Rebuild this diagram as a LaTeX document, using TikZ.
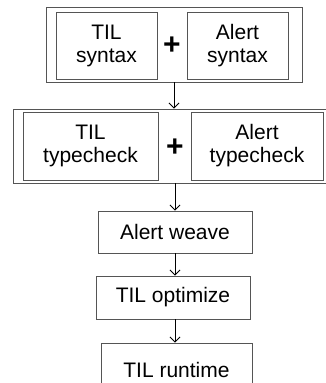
\documentclass[tikz,border=0pt]{standalone}
\usepackage{fontspec}
\setmainfont{Liberation Sans}
\usetikzlibrary{arrows.meta}
\definecolor{boxgray}{RGB}{85,85,85}
\tikzset{
  box/.style={draw=boxgray, line width=0.9pt, inner sep=0pt, align=center,
    font=\fontsize{21}{23}\selectfont},
  outer/.style={draw=boxgray, line width=0.9pt, inner sep=0pt},
  plus/.style={inner sep=0pt, font=\fontsize{30}{30}\selectfont\bfseries},
  flow/.style={draw=black, line width=0.8pt, -{Straight Barb[length=5pt,width=10pt]}},
}
\newcommand{\bx}[6]{% name, x1, y1, x2, y2, text
  \node[box, minimum width={#4-#2}, minimum height={#5-#3}] (#1) at ({(#2+#4)/2},{-(#3+#5)/2}) {#6};}
\begin{document}
\begin{tikzpicture}[x=1pt,y=1pt]
\useasboundingbox (0,0) rectangle (326,-383);
\clip (0,0) rectangle (326,-383);
% stage 1
\node[outer, minimum width=256, minimum height=75] (o1) at (174,-44.5) {};
\bx{tilsyn}{56}{12}{157}{79}{TIL\\syntax}
\bx{alsyn}{187}{12}{288}{79}{Alert\\syntax}
\node[plus] (p1) at (172,-46) {+};
% stage 2
\node[outer, minimum width=320, minimum height=74] (o2) at (173,-146) {};
\bx{tiltc}{23}{112}{158}{180}{TIL\\typecheck}
\bx{altc}{191}{112}{323}{180}{Alert\\typecheck}
\node[plus] (p2) at (175,-148) {+};
% later stages
\bx{weave}{98}{211}{252}{253}{Alert weave}
\bx{opt}{96}{276}{250}{319}{TIL optimize}
\bx{run}{101}{343}{252}{397}{TIL runtime}
\coordinate (r1) at (174,-82);
\draw[flow] (o1.south -| r1) -- (o2.north -| r1);
\coordinate (r2) at (175,-183);
\draw[flow] (o2.south -| r2) -- (weave.north -| r2);
\draw[flow] (weave.south -| r2) -- (opt.north -| r2);
\draw[flow] (opt.south -| r2) -- (run.north -| r2);
\end{tikzpicture}
\end{document}
